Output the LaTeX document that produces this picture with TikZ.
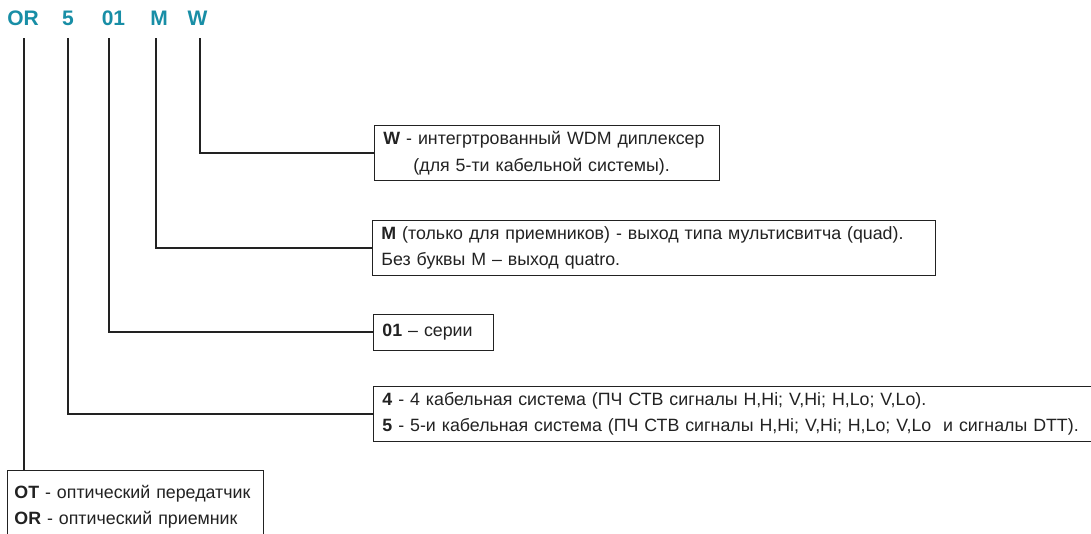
\documentclass[tikz,border=0pt]{standalone}
\usepackage{fontspec}
\setmainfont{Liberation Sans}
\usetikzlibrary{positioning}
\definecolor{codeteal}{RGB}{24,142,166}
\definecolor{leadgray}{RGB}{34,34,34}
\tikzset{
  head/.style={
    font=\fontsize{21}{25}\selectfont\bfseries,
    text=codeteal, inner sep=0pt, anchor=base
  },
  lead/.style={line width=2pt, draw=leadgray},
  legend/.style={
    draw=leadgray, line width=0.9pt,
    font=\fontsize{17.8}{26.5}\selectfont, text=leadgray,
    align=left, inner xsep=9pt, inner ysep=6pt, anchor=west
  }
}

\begin{document}
\begin{tikzpicture}[x=1pt,y=-1pt]
\useasboundingbox (0,0) rectangle (1091,533);
\fill[white] (0,0) rectangle (1091,533);
\foreach \k/\x in {%
  OR/23,
  5/68,
  01/113.5,
  M/159,
  W/197.5%
} {
  \node[head] (h\k) at (\x,25) {\k};
}
\foreach \k/\x in {OR/24, 5/68, 01/109, M/156, W/200} {
  \coordinate (t\k) at (\x,38);
}
\node[legend, text width=327pt] (bW) at (374,153)
  {\textbf{W} - интегртрованный WDM диплексер\\
   \hspace*{30pt}(для 5-ти кабельной системы).};
\node[legend, text width=545pt] (bM) at (372,248)
  {\textbf{M} (только для приемников) - выход типа мультисвитча (quad).\\
   Без буквы M – выход quatro.};
\node[legend, text width=102pt, minimum height=36pt] (b01) at (373,332)
  {\textbf{01} – серии};
\node[legend, text width=760pt] (b45) at (373,414)
  {\textbf{4} - 4 кабельная система (ПЧ СТВ сигналы H,Hi; V,Hi; H,Lo; V,Lo).\\
   \textbf{5} - 5-и кабельная система (ПЧ СТВ сигналы H,Hi; V,Hi; H,Lo; V,Lo\ \ и сигналы DTT).};
\node[legend, anchor=north west, inner xsep=7pt, text width=242pt,
      minimum height=82pt, text depth=40pt] (bOT) at (7,470)
  {\textbf{OT} - оптический передатчик\\
   \textbf{OR} - оптический приемник};
\draw[lead] (tW) |- (bW.west);
\draw[lead] (tM) |- (bM.west);
\draw[lead] (t01) |- (b01.west);
\draw[lead] (t5) |- (b45.west);
\draw[lead] (tOR) -- (tOR |- bOT.north);
\end{tikzpicture}
\end{document}
